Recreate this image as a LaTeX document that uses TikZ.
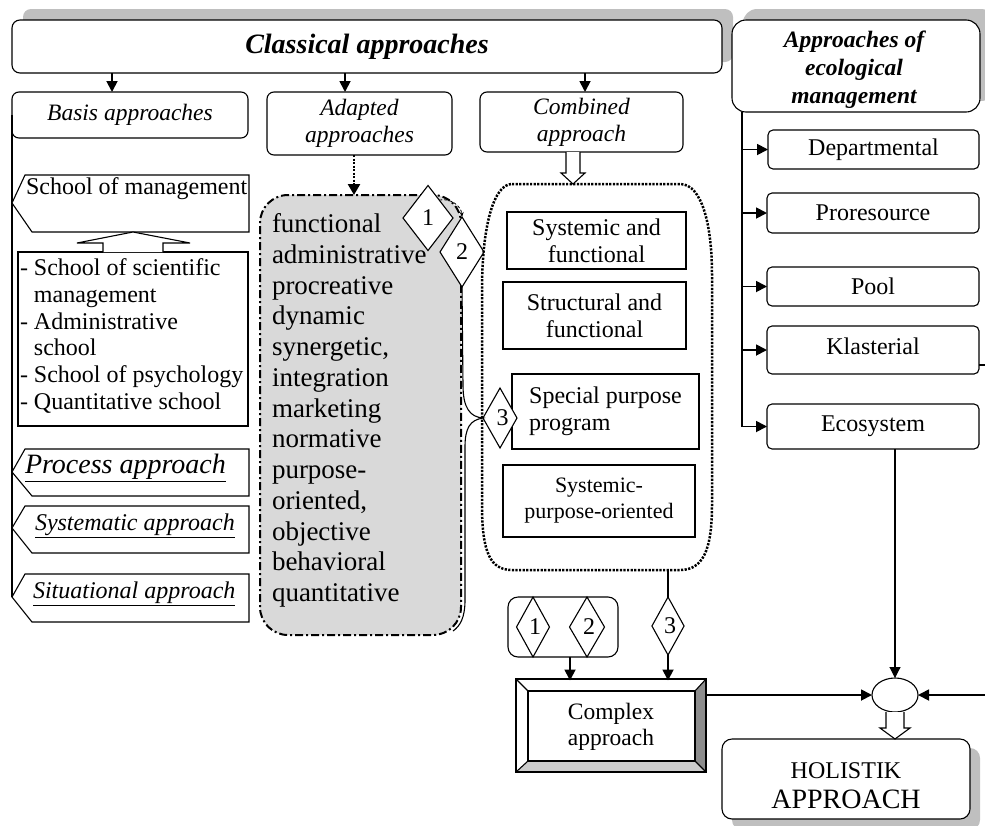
\documentclass[tikz,border=0pt]{standalone}
\usepackage{fontspec}
\setmainfont{Liberation Serif}
\usetikzlibrary{shapes.geometric,arrows.meta,calc}
\newcommand\fsz[2]{\fontsize{#1}{#2}\selectfont}
\begin{document}
\begin{tikzpicture}[x=1pt,y=-1pt,
  every node/.style={inner sep=0pt,outer sep=0pt},
  box/.style={draw,line width=1.1pt,align=center},
  rbox/.style={box,rounded corners=7pt},
  arr/.style={line width=1.8pt,-{Triangle[length=11pt,width=11pt]}},
  thinarr/.style={line width=1.1pt,-{Triangle[length=11pt,width=11pt]}},
  dia/.style={draw,line width=1.1pt,fill=white,shape=diamond,inner sep=0pt,font=\fsz{24}{25}},
  shade/.style={fill=black!25},
  pent/.style={draw,line width=1.1pt,fill=white},
  hollow/.style={draw,line width=1.1pt,fill=white},
  tx/.style={font=\fsz{24}{27}},
  ti/.style={font=\fsz{23.5}{27}\itshape}
]
\useasboundingbox (0,0) rectangle (985,825);
\clip (0,0) rectangle (985,825);

% ---------- shadows ----------
\fill[shade,rounded corners=8pt] (23,9) rectangle (733,62);
\fill[shade,rounded corners=14pt] (743,9) rectangle (995,101);
\fill[shade,rounded corners=10pt] (732,748) rectangle (980,830);

% ---------- top row ----------
\node[rbox,rounded corners=8pt,fill=white,minimum width=710pt,minimum height=53pt,font=\fsz{28}{32}\bfseries\itshape] (classical) at (367,46.5) {Classical approaches};
\node[rbox,rounded corners=14pt,fill=white,minimum width=248pt,minimum height=92pt] (eco) at (856,66) {};
\node[align=center,font=\fsz{23.5}{28}\bfseries\itshape] (ecotext) at (854,70) {Approaches of\\ecological\\management};

\node[rbox,ti,minimum width=236pt,minimum height=46pt] (basis) at (130,115) {\raisebox{2pt}{Basis approaches}};
\node[rbox,ti,minimum width=185pt,minimum height=63pt] (adapted) at (359.5,123.5) {\raisebox{-3pt}{Adapted}\\\raisebox{-3pt}{approaches}};
\node[rbox,ti,minimum width=203pt,minimum height=60pt] (combined) at (581.5,122) {\raisebox{-3pt}{Combined}\\\raisebox{-3pt}{approach}};

\coordinate (xa) at (112,0);
\coordinate (xb) at (345,0);
\coordinate (xc) at (585,0);
\draw[arr] (classical.south -| xa) -- (basis.north -| xa);
\draw[arr] (classical.south -| xb) -- (adapted.north -| xb);
\draw[arr] (classical.south -| xc) -- (combined.north -| xc);

% ---------- left column ----------
\coordinate (tipSit) at (12,597);
\draw[line width=1.1pt] (basis.west) -- (tipSit);

\draw[pent] (25,175) -- (249,175) -- (249,232) -- (32,232) -- (12,203) -- cycle;
\coordinate (somb) at (133,232);
\node[tx,anchor=west] (som) at (26,189) {School of management};

\node[draw,line width=1.1pt,minimum width=230pt,minimum height=174pt] (list) at (133,339) {};
\node[anchor=west,align=left,font=\fsz{24}{26.8}] (listtext) at (20,336)
 {-~School of scientific\\\hphantom{-~}management\\-~Administrative\\\hphantom{-~}school\\-~School of psychology\\-~Quantitative school};
\draw[hollow] (list.north -| 103,0) -- (103,243) -- (77,243) -- (somb) -- (190,243) -- (163,243) -- (list.north -| 163,0);

\draw[pent] (25,449) -- (249,449) -- (249,496) -- (32,496) -- (12,472) -- cycle;
\node[anchor=west,font=\fsz{28}{30}\itshape] (proc) at (25,468) {\underline{Process approach}};
\draw[pent] (25,506) -- (249,506) -- (249,553) -- (32,553) -- (12,528) -- cycle;
\node[anchor=west,font=\fsz{24}{27}\itshape] (syst) at (35,526) {\underline{Systematic approach}};
\draw[pent] (25,574) -- (249,574) -- (249,622) -- (32,622) -- (12,597) -- cycle;
\node[anchor=west,font=\fsz{24}{27}\itshape] (situ) at (33,594) {\underline{Situational approach}};

% ---------- adapted (grey) ----------
\node[draw,line width=2pt,dash pattern=on 8pt off 3pt on 2pt off 3pt,fill=black!15,rounded corners=28pt,minimum width=201pt,minimum height=440pt] (gray) at (360.5,415) {};
\node[anchor=north west,align=left,font=\fsz{27}{30.75}] (graytext) at (272,213.6) {functional\\administrative\\procreative\\dynamic\\synergetic,\\integration\\marketing\\normative\\purpose-\\oriented,\\objective\\behavioral\\quantitative};
\coordinate (xd) at (354,0);
\draw[line width=2.5pt,dash pattern=on 2pt off 1.5pt,-{Triangle[length=11pt,width=12pt]}] (adapted.south -| xd) -- (gray.north -| xd);

\node[dia,minimum width=50pt,minimum height=65pt] (d1) at (428,218) {1};
\node[dia,minimum width=44pt,minimum height=70pt] (d2) at (462,252) {2};
\draw[densely dashed,line width=0.8pt,-{Stealth[length=5pt,width=4pt]}] ($(d1.north)!0.45!(d1.east)$) to[bend left=50] (d2.north);

% ---------- combined group ----------
\coordinate (gtop) at (573,184);
\coordinate (gbot) at (668,570);
\draw[line width=2.5pt,dash pattern=on 2.2pt off 1.4pt]
  (512,184) -- (680,184) .. controls (702,184) and (712,225) .. (712,275) -- (712,505)
  .. controls (712,552) and (702,570) .. (680,570) -- (512,570)
  .. controls (490,570) and (482,552) .. (482,505) -- (482,290)
  .. controls (482,225) and (494,184) .. (512,184) -- cycle;
\draw[hollow] (combined.south -| 566,0) -- (566,173) -- (561,173) -- (gtop) -- (585,173) -- (580,173) -- (combined.south -| 580,0);

\node[box,tx,minimum width=179pt,minimum height=57pt] (sysfun) at (596.5,240.5) {Systemic and\\functional};
\node[box,tx,minimum width=183pt,minimum height=67pt] (strfun) at (594.5,315.5) {Structural and\\functional};
\node[box,tx,minimum width=187pt,minimum height=75pt] (spp) at (605.5,411.5) {\begin{tabular}{@{}l@{}}Special purpose\\program\end{tabular}};
\node[box,minimum width=192pt,minimum height=72pt,font=\fsz{22}{26}] (spo) at (599,501) {Systemic-\\purpose-oriented};
\node[dia,minimum width=34pt,minimum height=60pt] (d3) at (500,418) {\hspace{5pt}3};

% brace from diamond 2 to diamond 3 and the grey box
\draw[line width=1.1pt] (d2.south) -- (463,385) .. controls (463,408) and (470,417) .. (d3.west)
  .. controls (470,420) and (465,428) .. (465,447) -- (465,600) .. controls (465,618) and (460,626) .. (453,631);

% ---------- ecological column ----------
\coordinate (vx) at (742,0);
\node[rbox,tx,rounded corners=5pt,minimum width=211pt,minimum height=39pt] (dep) at (873.5,149.5) {Departmental};
\node[rbox,tx,rounded corners=5pt,minimum width=212pt,minimum height=40pt] (pro) at (873,213) {Proresource};
\node[rbox,tx,rounded corners=5pt,minimum width=212pt,minimum height=39pt] (pool) at (873,286.5) {Pool};
\node[rbox,tx,rounded corners=5pt,minimum width=212pt,minimum height=48pt] (kla) at (873,350) {\raisebox{7pt}{Klasterial}};
\node[rbox,tx,rounded corners=5pt,minimum width=212pt,minimum height=45pt] (ecos) at (873,426.5) {\raisebox{3pt}{Ecosystem}};
\draw[line width=1.1pt] (eco.south -| vx) -- (ecos.west -| vx);
\draw[arr] (dep.west -| vx) -- (dep.west);
\draw[arr] (pro.west -| vx) -- (pro.west);
\draw[arr] (pool.west -| vx) -- (pool.west);
\draw[arr] (kla.west -| vx) -- (kla.west);
\draw[arr] (ecos.west -| vx) -- (ecos.west);
\draw[line width=1.1pt] ($(kla.south east)+(0,-9)$) -- ++(8,0);

% ---------- bottom ----------
\node[draw,line width=1.1pt,ellipse,minimum width=46pt,minimum height=34pt] (junc) at (895,695) {};
\draw[thinarr] (junc.north |- ecos.south) -- (junc.north);

% complex approach (bevelled)
\fill[white] (516,679) -- (706,679) -- (695,691) -- (528,691) -- cycle;
\fill[white] (516,679) -- (528,691) -- (528,761) -- (516,772) -- cycle;
\fill[black!45] (706,679) -- (706,772) -- (695,761) -- (695,691) -- cycle;
\fill[black!20] (516,772) -- (706,772) -- (695,761) -- (528,761) -- cycle;
\draw[line width=1.1pt] (516,679) rectangle (706,772);
\draw[line width=1.1pt] (528,691) rectangle (695,761);
\draw[line width=1.1pt] (516,679) -- (528,691) (706,679) -- (695,691) (516,772) -- (528,761) (706,772) -- (695,761);
\node[align=center,minimum width=190pt,minimum height=93pt,font=\fsz{23.5}{26}] (complex) at (611,727) {Complex\\approach};

\node[draw,line width=1.1pt,rounded corners=10pt,minimum width=110pt,minimum height=60pt] (dgrp) at (563,627) {};
\node[dia,minimum width=33pt,minimum height=60pt] (da) at (533,627) {\hspace{4pt}1};
\node[dia,minimum width=35pt,minimum height=60pt] (db) at (587,627) {\hspace{4pt}2};
\node[dia,minimum width=32pt,minimum height=58pt] (dc) at (668,626) {\hspace{4pt}3};
\draw[line width=1.5pt] (gbot) -- (dc.north);
\coordinate (xg) at (570,0);
\draw[arr] (dgrp.south -| xg) -- (complex.north -| xg);
\draw[arr] (dc.south) -- (complex.north -| dc.south);

\coordinate (mid) at (818,695);
\coordinate (rin) at (986,695);
\draw[line width=1.1pt] (complex.east |- junc.west) -- (mid);
\draw[arr] (mid) -- (junc.west);
\draw[arr] (rin) -- (junc.east);

\node[rbox,rounded corners=10pt,fill=white,minimum width=248pt,minimum height=80pt] (holi) at (846,779) {};
\node[align=center,font=\fsz{24}{30}] (holitext) at (846,786) {HOLISTIK\\{\fsz{28}{30}APPROACH}};
\draw[hollow] (junc.south -| 886,0) -- (886,728) -- (880,728) -- (holi.north -| junc.south) -- (910,728) -- (904,728) -- (junc.south -| 904,0);
\end{tikzpicture}
\end{document}
